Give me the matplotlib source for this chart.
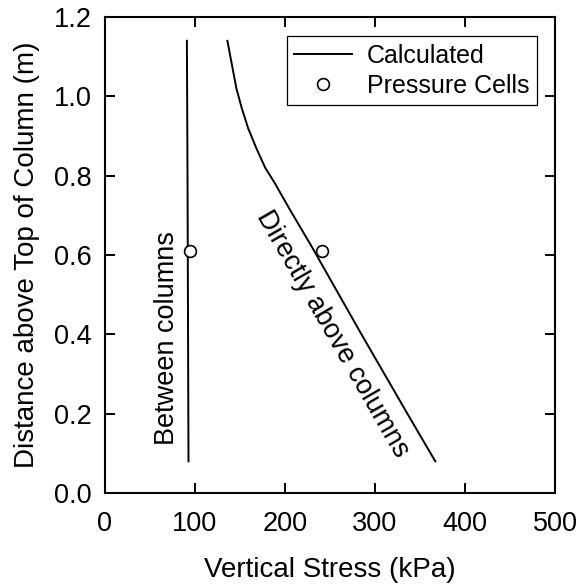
import numpy as np
import matplotlib
matplotlib.use("Agg")
import matplotlib.pyplot as plt

plt.rcParams['font.family'] = ['Liberation Sans', 'DejaVu Sans']

# Tensão vertical calculada entre as colunas
between_stress = [91, 91.3, 91.7, 92, 92.3, 92.6, 92.8]
between_depth = [1.14, 1.0, 0.8, 0.6, 0.4, 0.2, 0.08]

# Tensão vertical calculada diretamente acima das colunas
above_stress = [136, 141, 146, 152, 159, 168, 178, 189, 204, 230, 285, 336, 367]
above_depth = [1.14, 1.08, 1.02, 0.97, 0.92, 0.87, 0.82, 0.78, 0.72, 0.62, 0.40, 0.20, 0.08]

# Células de pressão medidas
cell_stress = [94, 241]
cell_depth = [0.61, 0.61]

x_ticks = [0, 100, 200, 300, 400, 500]
y_ticks = [0.0, 0.2, 0.4, 0.6, 0.8, 1.0, 1.2]

fig = plt.figure(figsize=(5.81, 5.84), dpi=100)
ax = fig.add_axes([0.1807, 0.1558, 0.7745, 0.8151])

ax.plot(between_stress, between_depth, color='black', lw=1.4, label='Calculated')
ax.plot(above_stress, above_depth, color='black', lw=1.4)
ax.plot(cell_stress, cell_depth, linestyle='none', marker='o', markersize=8.5,
        markerfacecolor='white', markeredgecolor='black', markeredgewidth=1.2,
        label='Pressure Cells')

ax.text(69, 0.39, 'Between columns', rotation=90, fontsize=19.5,
        ha='center', va='center')
ax.text(253, 0.40, 'Directly above columns', rotation=-60, fontsize=19.5,
        ha='center', va='center', rotation_mode='anchor')

ax.set_xlim(0, 500)
ax.set_ylim(0, 1.2)
ax.set_xticks(x_ticks)
ax.set_yticks(y_ticks)
ax.set_yticklabels([f'{v:.1f}' for v in y_ticks])
ax.tick_params(direction='in', top=True, right=True, length=7.5, width=1.4,
               labelsize=19.5)
ax.tick_params(axis='x', pad=13)
ax.tick_params(axis='y', pad=9.5)
for s in ax.spines.values():
    s.set_linewidth(1.5)

ax.set_xlabel('Vertical Stress (kPa)', fontsize=20, labelpad=14)
ax.set_ylabel('Distance above Top of Column (m)', fontsize=20, labelpad=10)

leg = ax.legend(loc='upper right', bbox_to_anchor=(0.96, 0.96), borderaxespad=0,
                fontsize=18, fancybox=False, framealpha=1, edgecolor='black',
                handlelength=2.3, handletextpad=0.6, labelspacing=0.25,
                borderpad=0.3)
leg.get_frame().set_linewidth(0.9)

fig.savefig('out.png', dpi=100)
